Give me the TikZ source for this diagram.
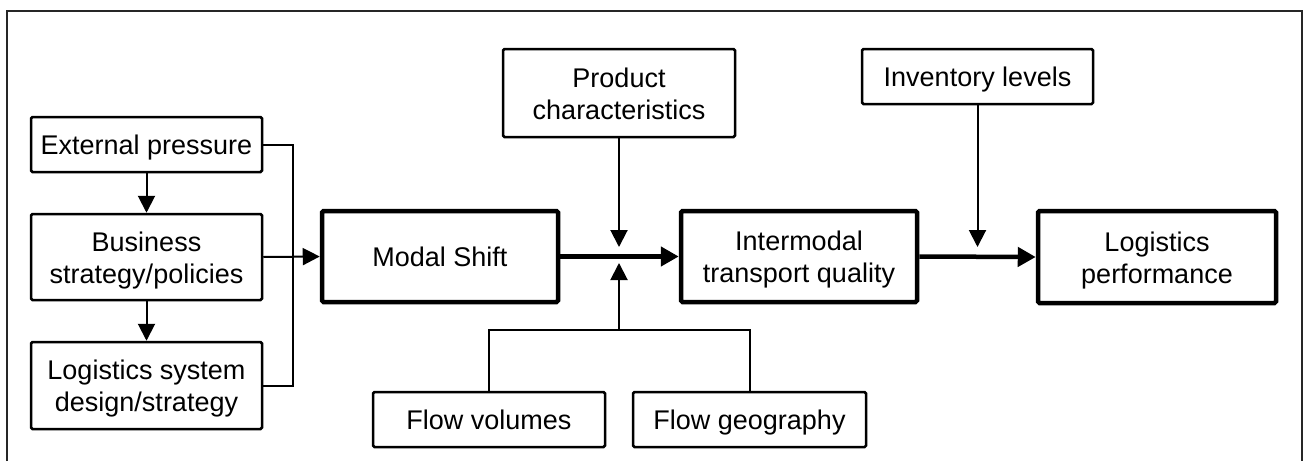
\documentclass[tikz,border=0pt]{standalone}
\usepackage{fontspec}
\setmainfont{Liberation Sans}
\usetikzlibrary{arrows.meta}
\begin{document}
\begin{tikzpicture}[x=1pt,y=-1pt,
  box/.style={draw=black,line width=2.5pt,rounded corners=1.5pt,fill=white,inner sep=0pt,align=center,
    font=\fontsize{27}{32}\selectfont},
  bigbox/.style={box,line width=4.5pt},
  oneline/.style={text height=20pt,text depth=0pt},
  twoline/.style={text height=52pt,text depth=0pt},
  thin/.style={line width=2pt,-{Triangle[length=17pt,width=17pt]}},
  plain/.style={line width=2pt},
  thick/.style={line width=4.5pt,-{Triangle[length=18pt,width=19pt]}},
  frame/.style={draw=black!85,line width=1.5pt}]
\useasboundingbox (0,0) rectangle (1303,461);
\draw[frame] (7,461) -- (7,11) -- (1302,11) -- (1302,461);
% left column
\node[box,oneline,minimum width=231pt,minimum height=55pt] (ext) at (146.5,144.5) {External pressure};
\node[box,twoline,minimum width=231pt,minimum height=86pt] (bus) at (146.5,257) {Business\\strategy/policies};
\node[box,twoline,minimum width=231pt,minimum height=87pt] (lsd) at (146.5,385.5) {Logistics system\\design/strategy};
% main chain
\node[bigbox,oneline,minimum width=236pt,minimum height=91pt] (modal) at (440,256.5) {Modal Shift};
\node[bigbox,twoline,minimum width=236pt,minimum height=91pt] (inter) at (799,256.5) {Intermodal\\transport quality};
\node[bigbox,twoline,minimum width=238pt,minimum height=92pt] (perf) at (1157,257) {Logistics\\performance};
% influencing factors
\node[box,twoline,minimum width=232pt,minimum height=88pt] (prod) at (619,93) {Product\\characteristics};
\node[box,oneline,minimum width=231pt,minimum height=55pt] (inv) at (977.5,76.5) {Inventory levels};
\node[box,oneline,minimum width=232pt,minimum height=55pt] (fv) at (489,419.5) {Flow volumes};
\node[box,oneline,minimum width=233pt,minimum height=55pt] (fg) at (749.5,419.5) {Flow geography};
% coordinates
\coordinate (brk) at (293,257);
\coordinate (pt) at (619,247);
\coordinate (pb) at (619,263);
\coordinate (jh) at (619,330);
\coordinate (it) at (977.5,247);
% connectors
\draw[thin] (ext) -- (bus);
\draw[thin] (bus) -- (lsd);
\draw[plain] (ext.east) -| (brk) |- (lsd.east);
\draw[thin] (bus.east) -- (modal.west);
\draw[thick] (modal.east) -- (inter.west);
\draw[thick] (inter.east) -- (perf.west);
\draw[thin] (prod.south) -- (pt);
\draw[thin] (inv.south) -- (it);
\draw[plain] (fv.north) |- (jh) -| (fg.north);
\draw[thin] (jh) -- (pb);
\end{tikzpicture}
\end{document}
